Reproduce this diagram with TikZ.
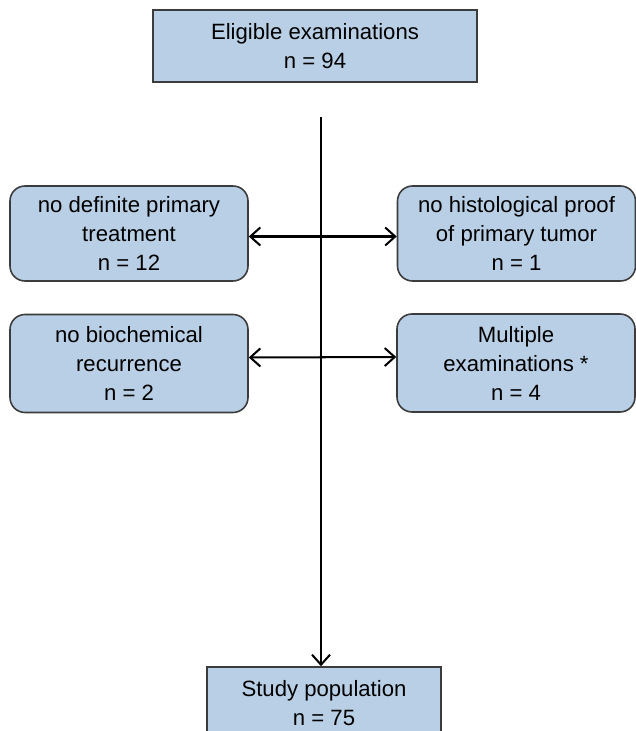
\documentclass[tikz,border=0pt]{standalone}
\usepackage{fontspec}
\setmainfont{Liberation Sans}
\usepackage{xcolor}
\usepackage{tikz}
\usetikzlibrary{positioning,calc,arrows.meta}

\definecolor{boxblue}{RGB}{185,207,229}
\definecolor{boxline}{RGB}{60,60,60}

\tikzset{
    flowbox/.style={draw=boxline, line width=0.9pt, fill=boxblue, align=center,
        inner sep=0pt, font=\fontsize{12.6}{16.5}\selectfont},
    sidebox/.style={flowbox, rounded corners=0.3cm, minimum width=4.76cm, minimum height=1.9cm},
    flowline/.style={line width=1.15pt, black, >={Straight Barb[length=2mm,width=3.6mm]}}
}

\begin{document}
\begin{tikzpicture}[scale=1.0]
    \useasboundingbox (0,0) rectangle (12.70,-14.62);

    % Start and end boxes
    \node[flowbox, minimum width=6.48cm, minimum height=1.44cm] (elig) at (6.30,-0.92)
        {Eligible examinations\\n = 94};
    \node[flowbox, minimum width=4.68cm, minimum height=1.44cm] (study) at (6.48,-14.06)
        {Study population\\n = 75};

    % Exclusion boxes
    \node[sidebox] (treat) at (2.58,-4.67) {no definite primary\\treatment\\n = 12};
    \node[sidebox] (histo) at (10.33,-4.67) {no histological proof\\of primary tumor\\n = 1};
    \node[sidebox, minimum height=1.96cm] (recur) at (2.58,-7.27) {no biochemical\\recurrence\\n = 2};
    \node[sidebox, minimum height=1.96cm] (multi) at (10.32,-7.26) {Multiple\\examinations *\\n = 4};

    % Main flow
    \coordinate (top) at (6.42,-2.34);
    \draw[flowline, ->] (top) -- (top |- study.north);

    % Exclusions
    \draw[flowline, <->] ([yshift=-0.06cm]treat.east) -- ([yshift=-0.06cm]histo.west);
    \draw[flowline, <->] ([yshift=0.12cm]recur.east) -- ([yshift=0.12cm]multi.west);
\end{tikzpicture}
\end{document}
